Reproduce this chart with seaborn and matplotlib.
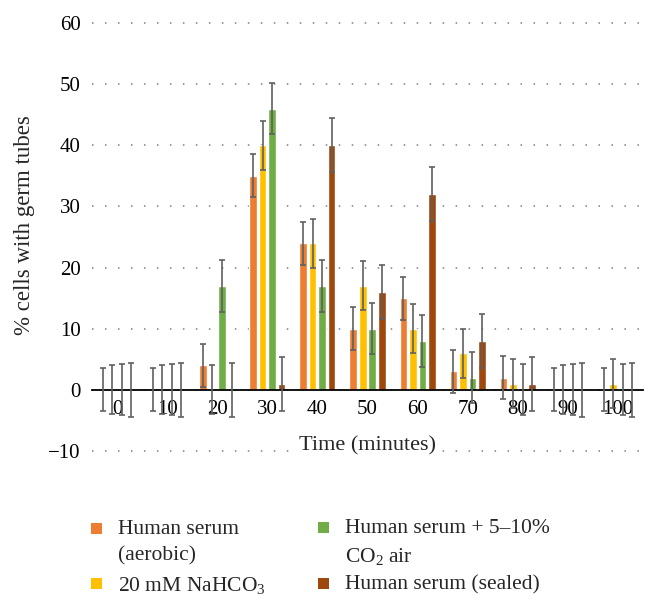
import numpy as np
import pandas as pd
import matplotlib
matplotlib.use("Agg")
import matplotlib.pyplot as plt
import matplotlib.transforms as mtransforms
from matplotlib.patches import Rectangle
import seaborn as sns

# ---------------- data ----------------
times = ["0", "10", "20", "30", "40", "50", "60", "70", "80", "90", "100"]
series = ["Human serum\n(aerobic)", "20 mM NaHCO$_3$",
          "Human serum + 5\u201310%\nCO$_2$ air", "Human serum (sealed)"]
aerobic = [0, 0, 4, 35, 24, 10, 15, 3, 2, 0, 0]
nahco3 = [0, 0, 0, 40, 24, 17, 10, 6, 1, 0, 1]
co2_air = [0, 0, 17, 46, 17, 10, 8, 2, 0, 0, 0]
sealed = [0, 0, 0, 1, 40, 16, 32, 8, 1, 0, 0]
errors = [3.5, 4.0, 4.2, 4.4]
colors = ["#ED7D31", "#FFC000", "#70AD47", "#9E480E"]
yticks = [-10, 0, 10, 20, 30, 40, 50, 60]
ytick_labels = ["\u221210", "0", "10", "20", "30", "40", "50", "60"]

values = [aerobic, nahco3, co2_air, sealed]
df = pd.DataFrame({
    "time": [t for _ in series for t in times],
    "series": [s for s in series for _ in times],
    "value": [v for vals in values for v in vals],
})

# ---------------- style ----------------
sns.set_style("white")
plt.rcParams["font.family"] = ["Liberation Serif", "DejaVu Serif"]
plt.rcParams["mathtext.fontset"] = "custom"
plt.rcParams["mathtext.rm"] = "Liberation Serif"
plt.rcParams["mathtext.it"] = "Liberation Serif:italic"

W, H = 656, 611
fig = plt.figure(figsize=(W / 100, H / 100), dpi=100)
ax = fig.add_axes([92 / W, 1 - 454 / H, 551 / W, 434 / H])

group_w = 0.76
sns.barplot(data=df, x="time", y="value", hue="series", order=times,
            hue_order=series, palette=colors, saturation=1, width=group_w,
            gap=0.2, errorbar=None, legend=False, ax=ax, zorder=2)

n = len(series)
slot = group_w / n
for j, vals in enumerate(values):
    xs = [ax.xaxis.convert_units(t) + (j - (n - 1) / 2) * slot for t in times]
    ax.errorbar(xs, vals, yerr=errors[j], fmt="none", ecolor="#606060",
                elinewidth=1.2, capsize=2.4, capthick=1.2, zorder=3)

ax.set_ylim(-10.5, 60.5)
ax.set_xlim(-0.5, 10.5)
ax.set_yticks(yticks)
ax.set_yticklabels(ytick_labels)
ax.set_xlabel("")
ax.set_ylabel("")

for s in ["top", "right", "left"]:
    ax.spines[s].set_visible(False)
ax.spines["bottom"].set_position(("data", 0))
ax.spines["bottom"].set_color("black")
ax.spines["bottom"].set_linewidth(1.3)
ax.spines["bottom"].set_zorder(2.5)

ax.tick_params(axis="x", length=0, pad=7.5, labelsize=15, colors="black")
ax.tick_params(axis="y", length=0, pad=8, labelsize=15, colors="black")
ax.yaxis.grid(True, linestyle=(0, (1, 7.5)), color="#7f7f7f", linewidth=1.1)
ax.xaxis.grid(False)
ax.set_axisbelow(True)

# x-axis title sitting on the -10 gridline
trans = mtransforms.blended_transform_factory(ax.transAxes, ax.transData)
ax.text(0.5, -9.9, "Time (minutes)", transform=trans, ha="center",
        va="baseline", fontsize=16, zorder=5,
        bbox=dict(facecolor="white", edgecolor="none", pad=2))

# y-axis title
fig.text(25 / W, 1 - 225 / H, "% cells with germ tubes", rotation=90,
         ha="center", va="center", fontsize=16.5)

# ---------------- legend ----------------
leg_pos = [(91, 528), (91, 583), (318, 527), (318, 583)]
msz = 11
for (lx, ly), lab, col in zip(leg_pos, series, colors):
    fig.add_artist(Rectangle(((lx) / W, 1 - (ly + msz / 2) / H), msz / W,
                             msz / H, transform=fig.transFigure,
                             facecolor=col, edgecolor="none"))
    fig.text((lx + 27) / W, 1 - (ly - 8) / H, lab, ha="left", va="top",
             fontsize=15.5, linespacing=1.52)

fig.savefig("out.png", dpi=100)
